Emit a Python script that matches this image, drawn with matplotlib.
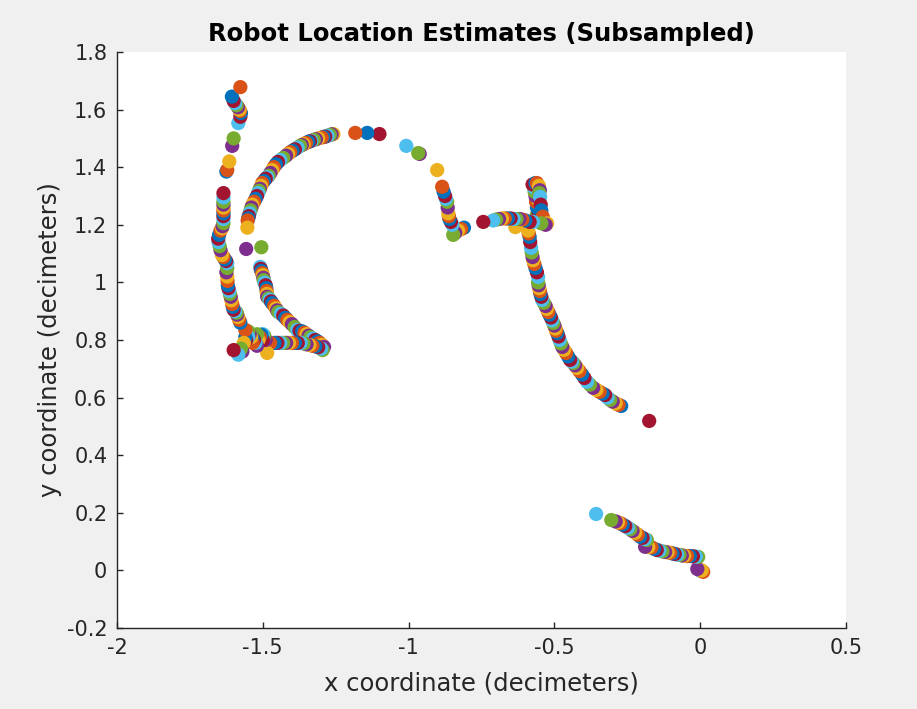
## --- ROBOT LOCATION ESTIMATES --- ##
""" Scatter of the (subsampled) robot location estimates, drawn point by
    point in the MATLAB colour order """

# -- IMPORTED LIBRARIES -- #
import matplotlib
matplotlib.use('Agg')
import matplotlib.pyplot as plt

# -- DATA (read from the trajectory, start at the origin) -- #
# bottom-right stretch, leaving the origin
x_start = [0.0, 0.01, 0.005, -0.01, -0.007, -0.015, -0.025, -0.035, -0.045,
           -0.055, -0.063, -0.071, -0.079, -0.087, -0.095, -0.103, -0.112,
           -0.12, -0.13, -0.14, -0.149, -0.158, -0.167, -0.178, -0.189,
           -0.183, -0.19, -0.198, -0.206, -0.214, -0.223, -0.232, -0.24,
           -0.248, -0.257, -0.266, -0.274, -0.282, -0.29, -0.305, -0.357]
y_start = [0.0, -0.005, 0.0, 0.005, 0.047, 0.048, 0.049, 0.05, 0.05,
           0.051, 0.052, 0.054, 0.055, 0.057, 0.059, 0.061, 0.063,
           0.064, 0.066, 0.069, 0.071, 0.075, 0.08, 0.081, 0.082,
           0.106, 0.109, 0.113, 0.117, 0.124, 0.131, 0.137, 0.143,
           0.148, 0.154, 0.159, 0.164, 0.167, 0.17, 0.175, 0.196]

# right arc, climbing up to the junction
x_arc_right = [-0.175, -0.271, -0.28, -0.29, -0.3, -0.309, -0.318, -0.326,
               -0.335, -0.345, -0.356, -0.367, -0.378, -0.388, -0.397, -0.405,
               -0.414, -0.422, -0.429, -0.435, -0.44, -0.446, -0.453, -0.46,
               -0.467, -0.473, -0.478, -0.482, -0.486, -0.49, -0.494, -0.497,
               -0.5, -0.504, -0.508, -0.512, -0.517, -0.521, -0.526, -0.53,
               -0.536, -0.542, -0.545, -0.548, -0.55, -0.552, -0.554, -0.556,
               -0.556, -0.56, -0.565, -0.569, -0.573, -0.575, -0.578, -0.58,
               -0.583, -0.585, -0.588, -0.59]
y_arc_right = [0.519, 0.571, 0.575, 0.58, 0.586, 0.592, 0.6, 0.609,
               0.614, 0.62, 0.627, 0.634, 0.645, 0.655, 0.668, 0.68,
               0.692, 0.703, 0.712, 0.72, 0.725, 0.731, 0.743, 0.755,
               0.766, 0.776, 0.788, 0.80, 0.812, 0.824, 0.832, 0.84,
               0.85, 0.859, 0.868, 0.878, 0.888, 0.897, 0.908, 0.918,
               0.929, 0.939, 0.95, 0.96, 0.97, 0.98, 0.99, 1.0,
               1.019, 1.035, 1.05, 1.064, 1.077, 1.088, 1.104, 1.12,
               1.14, 1.158, 1.17, 1.18]

# junction cluster and the short horizontal stretch
x_junction = [-0.56, -0.56, -0.55, -0.555, -0.56, -0.563, -0.558, -0.565,
              -0.568, -0.57, -0.575, -0.565, -0.56, -0.553, -0.55, -0.552,
              -0.549, -0.547, -0.545, -0.54, -0.525, -0.53, -0.545, -0.573,
              -0.585, -0.6, -0.61, -0.634, -0.62, -0.63, -0.64, -0.65,
              -0.66, -0.67, -0.68, -0.69, -0.70, -0.71, -0.744]
y_junction = [1.22, 1.235, 1.23, 1.245, 1.26, 1.28, 1.29, 1.30,
              1.315, 1.33, 1.34, 1.345, 1.345, 1.335, 1.32, 1.31,
              1.297, 1.27, 1.25, 1.228, 1.205, 1.2, 1.205, 1.21,
              1.21, 1.215, 1.218, 1.192, 1.22, 1.22, 1.22, 1.222,
              1.222, 1.222, 1.222, 1.22, 1.218, 1.215, 1.21]

# corner, then up and across the top
x_top = [-0.81, -0.82, -0.83, -0.84, -0.847, -0.85, -0.855, -0.86,
         -0.862, -0.864, -0.866, -0.868, -0.872, -0.875, -0.88, -0.885,
         -0.902, -0.962, -0.967, -1.008, -1.10, -1.142, -1.183]
y_top = [1.19, 1.185, 1.18, 1.172, 1.165, 1.2, 1.21, 1.22,
         1.23, 1.24, 1.26, 1.28, 1.29, 1.30, 1.315, 1.332,
         1.39, 1.446, 1.449, 1.474, 1.515, 1.519, 1.519]

# upper-left arc
x_arc_upper = [-1.258, -1.264, -1.27, -1.278, -1.286, -1.292, -1.298, -1.31,
               -1.318, -1.325, -1.334, -1.338, -1.344, -1.352, -1.36, -1.366,
               -1.372, -1.381, -1.39, -1.398, -1.406, -1.413, -1.42, -1.43,
               -1.44, -1.448, -1.455, -1.462, -1.468, -1.474, -1.48, -1.485,
               -1.49, -1.496, -1.502, -1.506, -1.51, -1.513, -1.516, -1.52,
               -1.525, -1.53, -1.536, -1.539, -1.542, -1.545, -1.548, -1.55,
               -1.552, -1.553, -1.557, -1.505]
y_arc_upper = [1.515, 1.514, 1.512, 1.509, 1.506, 1.505, 1.503, 1.50,
               1.497, 1.495, 1.491, 1.49, 1.488, 1.484, 1.48, 1.477,
               1.474, 1.468, 1.462, 1.457, 1.452, 1.446, 1.44, 1.432,
               1.425, 1.418, 1.41, 1.40, 1.39, 1.38, 1.37, 1.365,
               1.36, 1.352, 1.345, 1.335, 1.325, 1.318, 1.31, 1.30,
               1.29, 1.28, 1.27, 1.26, 1.25, 1.24, 1.23, 1.222,
               1.215, 1.19, 1.116, 1.122]

# lower arc and the horizontal stretch back
x_arc_lower = [-1.509, -1.507, -1.505, -1.502, -1.50, -1.498, -1.497, -1.494,
               -1.49, -1.488, -1.487, -1.486, -1.485, -1.48, -1.476, -1.472,
               -1.468, -1.461, -1.455, -1.451, -1.447, -1.438, -1.43, -1.423,
               -1.416, -1.408, -1.40, -1.391, -1.382, -1.374, -1.365, -1.357,
               -1.35, -1.343, -1.337, -1.328, -1.32, -1.312, -1.305, -1.297,
               -1.29, -1.295, -1.30, -1.31, -1.32, -1.33, -1.34, -1.35,
               -1.36, -1.37, -1.38, -1.39, -1.40, -1.41, -1.42, -1.43,
               -1.44, -1.45, -1.46, -1.475]
y_arc_lower = [1.054, 1.047, 1.04, 1.032, 1.025, 1.016, 1.008, 0.999,
               0.99, 0.98, 0.97, 0.96, 0.95, 0.945, 0.94, 0.934,
               0.928, 0.919, 0.91, 0.903, 0.897, 0.891, 0.885, 0.877,
               0.87, 0.862, 0.855, 0.845, 0.835, 0.832, 0.83, 0.825,
               0.82, 0.815, 0.81, 0.805, 0.80, 0.795, 0.79, 0.783,
               0.776, 0.765, 0.77, 0.775, 0.778, 0.78, 0.783, 0.785,
               0.788, 0.79, 0.79, 0.79, 0.79, 0.79, 0.79, 0.79,
               0.79, 0.79, 0.79, 0.79]

# bottom-left cluster
x_cluster = [-1.485, -1.49, -1.495, -1.50, -1.50, -1.505, -1.51, -1.515,
             -1.52, -1.52, -1.525, -1.53, -1.535, -1.535, -1.54, -1.545,
             -1.55, -1.55, -1.557, -1.56, -1.56, -1.565, -1.57, -1.575,
             -1.584, -1.60]
y_cluster = [0.755, 0.80, 0.815, 0.82, 0.80, 0.818, 0.81, 0.80,
             0.78, 0.82, 0.79, 0.80, 0.805, 0.79, 0.81, 0.82,
             0.83, 0.81, 0.80, 0.81, 0.835, 0.79, 0.76, 0.77,
             0.749, 0.765]

# left column, up to the end of the run
x_left = [-1.577, -1.581, -1.585, -1.588, -1.59, -1.595, -1.60, -1.603,
          -1.605, -1.608, -1.61, -1.613, -1.615, -1.618, -1.62, -1.621,
          -1.622, -1.625, -1.622, -1.622, -1.626, -1.63, -1.635, -1.64,
          -1.645, -1.648, -1.652, -1.653, -1.65, -1.645, -1.64, -1.638,
          -1.635, -1.635, -1.635, -1.635, -1.635, -1.635, -1.635, -1.635,
          -1.635, -1.635, -1.625, -1.622, -1.615, -1.605, -1.60, -1.584,
          -1.577, -1.575, -1.578, -1.58, -1.585, -1.59, -1.595, -1.60,
          -1.606, -1.577]
y_left = [0.86, 0.87, 0.88, 0.888, 0.895, 0.90, 0.905, 0.915,
          0.925, 0.938, 0.95, 0.96, 0.97, 0.98, 0.99, 1.005,
          1.02, 1.035, 1.05, 1.067, 1.074, 1.08, 1.088, 1.095,
          1.112, 1.126, 1.14, 1.152, 1.165, 1.18, 1.188, 1.195,
          1.206, 1.22, 1.23, 1.24, 1.25, 1.26, 1.27, 1.28,
          1.295, 1.31, 1.385, 1.39, 1.42, 1.474, 1.50, 1.553,
          1.575, 1.588, 1.595, 1.60, 1.608, 1.615, 1.622, 1.63,
          1.645, 1.678]

x_ticks = [-2, -1.5, -1, -0.5, 0, 0.5]
x_tick_labels = ['-2', '-1.5', '-1', '-0.5', '0', '0.5']
y_ticks = [-0.2, 0, 0.2, 0.4, 0.6, 0.8, 1, 1.2, 1.4, 1.6, 1.8]
y_tick_labels = ['-0.2', '0', '0.2', '0.4', '0.6', '0.8', '1', '1.2',
                 '1.4', '1.6', '1.8']

# MATLAB default colour order
matlab_colors = ['#0072BD', '#D95319', '#EDB120', '#7E2F8E',
                 '#77AC30', '#4DBEEE', '#A2142F']


# -- FUNCTION DEFINITIONS -- #

def plot_estimates():
    """
    Draws every estimate as its own dot, cycling through the colour order.
    """
    xs = (x_start + x_arc_right + x_junction + x_top + x_arc_upper
          + x_arc_lower + x_cluster + x_left)
    ys = (y_start + y_arc_right + y_junction + y_top + y_arc_upper
          + y_arc_lower + y_cluster + y_left)
    colors = [matlab_colors[i % len(matlab_colors)] for i in range(len(xs))]

    fig = plt.figure(figsize=(9.17, 7.09), dpi=100)
    fig.patch.set_facecolor('#f0f0f0')
    ax = fig.add_axes([0.1276, 0.1142, 0.795, 0.8125])
    ax.set_facecolor('white')

    ax.scatter(xs, ys, s=105, c=colors, marker='o', linewidths=0, zorder=3)

    # -- AXES STYLE (box off, ticks inside) -- #
    ax.set_xlim(-2, 0.5)
    ax.set_ylim(-0.2, 1.8)
    ax.spines['top'].set_visible(False)
    ax.spines['right'].set_visible(False)
    for side in ('left', 'bottom'):
        ax.spines[side].set_color('#262626')
        ax.spines[side].set_linewidth(1.0)
    ax.set_xticks(x_ticks)
    ax.set_xticklabels(x_tick_labels)
    ax.set_yticks(y_ticks)
    ax.set_yticklabels(y_tick_labels)
    ax.tick_params(direction='in', length=4, width=1.0, colors='#262626',
                   labelsize=15, pad=7)

    ax.set_title('Robot Location Estimates (Subsampled)', fontsize=17.5,
                 fontweight='bold', color='black', pad=8)
    ax.set_xlabel('x coordinate (decimeters)', fontsize=17.5,
                  color='#262626', labelpad=10)
    ax.set_ylabel('y coordinate (decimeters)', fontsize=17.5,
                  color='#262626', labelpad=3)

    fig.savefig('out.png', dpi=100, facecolor=fig.get_facecolor())
    plt.close(fig)


def main():
    plot_estimates()


if __name__ == '__main__':
    main()
